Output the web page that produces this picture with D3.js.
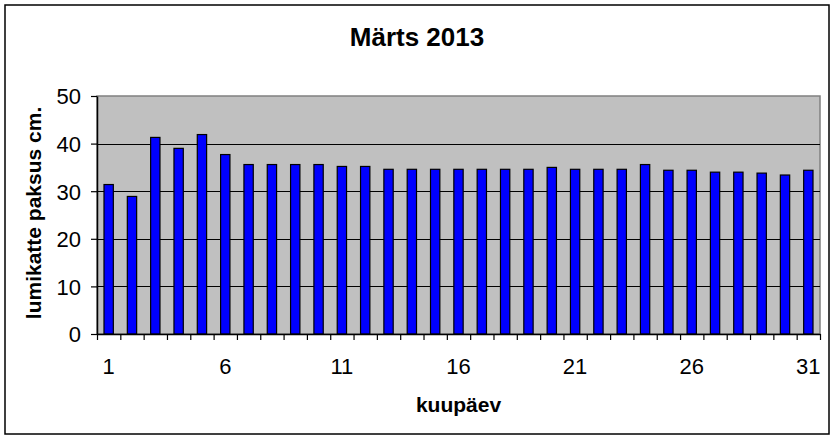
<!DOCTYPE html>
<html>
<head>
<meta charset="utf-8">
<script src="https://cdn.jsdelivr.net/npm/d3@7"></script>
<style>
    body { margin: 0; background: #fff; }
    text { font-family: "Liberation Sans", Arial, sans-serif; fill: #000; }
    .title { font-size: 26px; font-weight: bold; }
    .axis-title { font-size: 21px; font-weight: bold; }
    .tick-label { font-size: 22px; }
</style>
</head>
<body>
<svg id="chart" width="835" height="439"></svg>
<script>
// snow depth, March 2013
let days   = d3.range(1, 32);
let depth  = [31.4, 28.9, 41.3, 39.0, 41.9, 37.7, 35.6, 35.6, 35.6, 35.6,
              35.2, 35.2, 34.6, 34.6, 34.6, 34.6, 34.6, 34.6, 34.6, 35.0,
              34.6, 34.6, 34.6, 35.6, 34.4, 34.4, 34.0, 34.0, 33.8, 33.4, 34.4];
let yTicks = [0, 10, 20, 30, 40, 50];
let xLabels = [1, 6, 11, 16, 21, 26, 31];

let svg = d3.select("#chart");
let plotLeft = 97, plotRight = 820, plotTop = 96, plotBottom = 334;

// outer frame
svg.append("rect")
   .attr("x", 5).attr("y", 5)
   .attr("width", 824).attr("height", 429)
   .attr("fill", "#fff")
   .attr("stroke", "#000")
   .attr("stroke-width", 1.5);

let x = d3.scaleBand().domain(days).range([plotLeft, plotRight])
          .paddingInner(0.6).paddingOuter(0.3);
let xEdge = d3.scaleLinear().domain([0.5, 31.5]).range([plotLeft, plotRight]);
let y = d3.scaleLinear().domain([0, 50]).range([plotBottom, plotTop]);

// plot area
svg.append("rect")
   .attr("x", plotLeft).attr("y", plotTop)
   .attr("width", plotRight - plotLeft).attr("height", plotBottom - plotTop)
   .attr("fill", "#c0c0c0")
   .attr("stroke", "#808080")
   .attr("stroke-width", 1.5);

// gridlines
svg.append("g")
   .selectAll("line")
   .data(yTicks.filter(d => d > 0 && d < 50))
   .enter()
   .append("line")
   .attr("x1", plotLeft).attr("x2", plotRight)
   .attr("y1", d => Math.round(y(d)) + 0.5)
   .attr("y2", d => Math.round(y(d)) + 0.5)
   .attr("stroke", "#000")
   .attr("stroke-width", 1.2);

// bars
svg.append("g")
   .selectAll("rect")
   .data(depth)
   .enter()
   .append("rect")
   .attr("x", (d, i) => x(days[i]))
   .attr("y", d => y(d))
   .attr("width", x.bandwidth())
   .attr("height", d => y(0) - y(d))
   .attr("fill", "#0000ff")
   .attr("stroke", "#000")
   .attr("stroke-width", 1.2);

// y axis
let yAxis = svg.append("g")
               .attr("transform", "translate(" + plotLeft + ",0)")
               .call(d3.axisLeft(y).tickValues(yTicks).tickSize(6).tickPadding(10).tickSizeOuter(0));
yAxis.select(".domain").attr("stroke", "#000").attr("stroke-width", 1.5);
yAxis.selectAll(".tick line").attr("stroke", "#000").attr("stroke-width", 1.2);
yAxis.attr("font-family", null).attr("font-size", null);
yAxis.selectAll(".tick text")
     .attr("class", "tick-label")
     .attr("dy", "0.36em");

// x axis: ticks on category edges
let xAxis = svg.append("g")
               .attr("transform", "translate(0," + plotBottom + ")")
               .call(d3.axisBottom(xEdge).tickValues(d3.range(0.5, 32, 1))
                       .tickSize(6).tickSizeOuter(0).tickFormat(""));
xAxis.select(".domain").attr("stroke", "#000").attr("stroke-width", 1.5);
xAxis.selectAll(".tick line").attr("stroke", "#000").attr("stroke-width", 1.2);

svg.append("g")
   .selectAll("text")
   .data(xLabels)
   .enter()
   .append("text")
   .attr("class", "tick-label")
   .attr("x", d => x(d) + x.bandwidth() / 2)
   .attr("y", 374)
   .attr("text-anchor", "middle")
   .text(d => d);

// titles
svg.append("text")
   .attr("class", "title")
   .attr("x", 417).attr("y", 46)
   .attr("text-anchor", "middle")
   .text("Märts 2013");

svg.append("text")
   .attr("class", "axis-title")
   .attr("x", (plotLeft + plotRight) / 2).attr("y", 412)
   .attr("text-anchor", "middle")
   .text("kuupäev");

svg.append("text")
   .attr("class", "axis-title")
   .attr("transform", "translate(41," + 213 + ") rotate(-90)")
   .attr("text-anchor", "middle")
   .text("lumikatte paksus cm.");
</script>
</body>
</html>
